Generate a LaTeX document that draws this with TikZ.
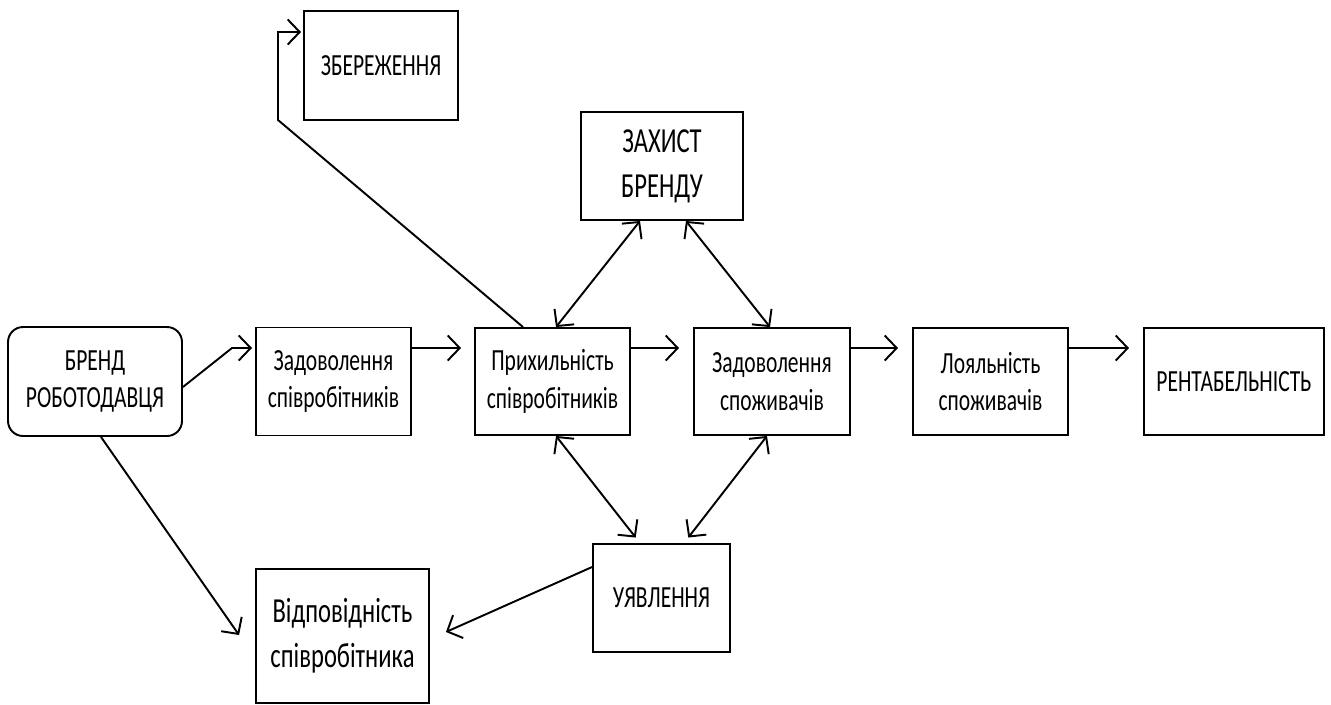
\documentclass[tikz,border=0pt]{standalone}
\usepackage{fontspec}
\setmainfont{Carlito}[FakeStretch=0.7]
\usetikzlibrary{arrows.meta}

\begin{document}
\begin{tikzpicture}[x=0.02cm, y=-0.02cm,
    block/.style={draw, line width=1.1pt, align=center, inner sep=0pt,
        font=\fontsize{17.5}{21.5}\selectfont},
    bigblock/.style={block, font=\fontsize{20}{25.5}\selectfont},
    arr/.style={line width=1.1pt, -{Straight Barb[length=2.4mm, width=5mm]}},
    biarr/.style={line width=1.1pt, {Straight Barb[length=2.4mm, width=5mm]}-{Straight Barb[length=2.4mm, width=5mm]}}]
    \useasboundingbox (0,0) rectangle (1331,704);

    % main chain
    \node[block, rounded corners=0.3cm, minimum width=3.48cm, minimum height=2.18cm] (brand) at (95,381.5) {БРЕНД\\РОБОТОДАВЦЯ};
    \node[block, minimum width=3.1cm, minimum height=2.16cm] (zadsp) at (333.5,381.5) {Задоволення\\співробітників};
    \node[block, minimum width=3.1cm, minimum height=2.14cm] (prykh) at (552.5,381.5) {Прихильність\\співробітників};
    \node[block, minimum width=3.12cm, minimum height=2.14cm] (zadspozh) at (772,381.5) {Задоволення\\споживачів};
    \node[block, minimum width=3.1cm, minimum height=2.14cm] (loyal) at (990.5,381.5) {Лояльність\\споживачів};
    \node[block, minimum width=3.6cm, minimum height=2.14cm] (rent) at (1234,381.5) {РЕНТАБЕЛЬНІСТЬ};

    % other blocks
    \node[bigblock, minimum width=3.24cm, minimum height=2.16cm] (zakhyst) at (662,166) {ЗАХИСТ\\БРЕНДУ};
    \node[block, minimum width=3.08cm, minimum height=2.18cm] (zber) at (381,65.5) {ЗБЕРЕЖЕННЯ};
    \node[block, minimum width=2.74cm, minimum height=2.16cm] (uyav) at (661.5,598) {УЯВЛЕННЯ};
    \node[bigblock, minimum width=3.46cm, minimum height=2.68cm] (vidp) at (342.5,636) {Відповідність\\співробітника};

    \coordinate (kink) at (232,348);
    \coordinate (up1) at (278,120);
    \coordinate (up2) at (278,32);

    % connectors
    \draw[arr, shorten >=0.06cm] ([yshift=-0.11cm]brand.east) -- (kink) -- ([yshift=0.67cm]zadsp.west);
    \draw[arr, shorten >=0.26cm] ([yshift=0.67cm]zadsp.east) -- ([yshift=0.67cm]prykh.west);
    \draw[arr, shorten >=0.28cm] ([yshift=0.67cm]prykh.east) -- ([yshift=0.67cm]zadspozh.west);
    \draw[arr, shorten >=0.28cm] ([yshift=0.67cm]zadspozh.east) -- ([yshift=0.67cm]loyal.west);
    \draw[arr, shorten >=0.28cm] ([yshift=0.67cm]loyal.east) -- ([yshift=0.67cm]rent.west);

    \draw[biarr] ([xshift=0.07cm]prykh.north) -- ([xshift=-0.44cm]zakhyst.south);
    \draw[biarr] ([xshift=0.48cm]zakhyst.south) -- ([xshift=-0.04cm]zadspozh.north);
    \draw[biarr, shorten >=0.14cm] ([xshift=0.07cm]prykh.south) -- ([xshift=-0.43cm]uyav.north);
    \draw[biarr, shorten >=0.14cm] ([xshift=-0.1cm]zadspozh.south) -- ([xshift=0.45cm]uyav.north);

    \draw[arr, shorten >=0.04cm] ([xshift=-0.59cm]prykh.north) -- (up1) -- (up2) -- ([yshift=0.67cm]zber.west);
    \draw[arr] ([xshift=0.12cm]brand.south) -- ([xshift=-0.32cm, yshift=0.02cm]vidp.west);
    \draw[arr] ([yshift=0.62cm]uyav.west) -- ([xshift=0.32cm, yshift=0.08cm]vidp.east);
\end{tikzpicture}
\end{document}
